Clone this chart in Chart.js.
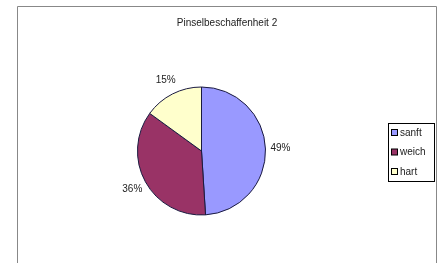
<!DOCTYPE html>
<html><head><meta charset="utf-8">
<script src="https://cdn.jsdelivr.net/npm/chart.js@4"></script>
<style>html,body{margin:0;padding:0;background:#fff;}#wrap{width:442px;height:263px;}</style>
</head><body><div id="wrap"><canvas id="c" width="442" height="263"></canvas></div>
<script>
const title = "Pinselbeschaffenheit 2";
const categories = ["sanft", "weich", "hart"];
const values = [49, 36, 15];
const colors = ["#9999FF", "#993366", "#FFFFCC"];
const FONT = '"Liberation Sans", Arial, sans-serif';

const decor = {
  id: 'decor',
  beforeDraw(chart) {
    const ctx = chart.ctx;
    ctx.save();
    ctx.fillStyle = '#fff';
    ctx.fillRect(0, 0, chart.width, chart.height);
    ctx.strokeStyle = '#888';
    ctx.lineWidth = 1;
    ctx.beginPath();
    ctx.moveTo(17.5, 270); ctx.lineTo(17.5, 6.5); ctx.lineTo(436.5, 6.5); ctx.lineTo(436.5, 270);
    ctx.stroke();
    ctx.fillStyle = '#222';
    ctx.font = '10px ' + FONT;
    ctx.textAlign = 'center'; ctx.textBaseline = 'middle';
    ctx.fillText(title, 227, 23);
    ctx.restore();
  },
  afterDraw(chart) {
    const ctx = chart.ctx;
    const meta = chart.getDatasetMeta(0);
    const total = values.reduce((a, b) => a + b, 0);
    ctx.save();
    ctx.font = '10px ' + FONT;
    ctx.fillStyle = '#222';
    ctx.textAlign = 'center'; ctx.textBaseline = 'middle';
    meta.data.forEach((arc, i) => {
      const p = arc.getProps(['x', 'y', 'startAngle', 'endAngle', 'outerRadius'], true);
      const mid = (p.startAngle + p.endAngle) / 2;
      const r = p.outerRadius + 15;
      ctx.fillText(Math.round(values[i] / total * 100) + '%', p.x + Math.cos(mid) * r, p.y + Math.sin(mid) * r);
    });
    // legend
    const lx = 388, ly = 123, lw = 46, lh = 58;
    ctx.fillStyle = '#fff';
    ctx.fillRect(lx, ly, lw, lh);
    ctx.strokeStyle = '#000';
    ctx.lineWidth = 1;
    ctx.strokeRect(lx + 0.5, ly + 0.5, lw, lh);
    ctx.textAlign = 'left';
    categories.forEach((name, i) => {
      const y = ly + 10 + i * 19.5;
      ctx.fillStyle = colors[i];
      ctx.fillRect(lx + 3.5, y - 3.5, 6, 6);
      ctx.strokeStyle = '#000';
      ctx.strokeRect(lx + 3.5, y - 3.5, 6, 6);
      ctx.fillStyle = '#222';
      ctx.fillText(name, lx + 12, y);
    });
    ctx.restore();
  }
};

new Chart(document.getElementById('c'), {
  type: 'pie',
  data: {
    labels: categories,
    datasets: [{ data: values, backgroundColor: colors, borderColor: '#1a1a40', borderWidth: 1 }]
  },
  options: {
    responsive: false,
    animation: false,
    events: [],
    layout: { padding: { left: 137, right: 176, top: 86, bottom: 47 } },
    plugins: { legend: { display: false }, title: { display: false }, tooltip: { enabled: false } }
  },
  plugins: [decor]
});
</script></body></html>
